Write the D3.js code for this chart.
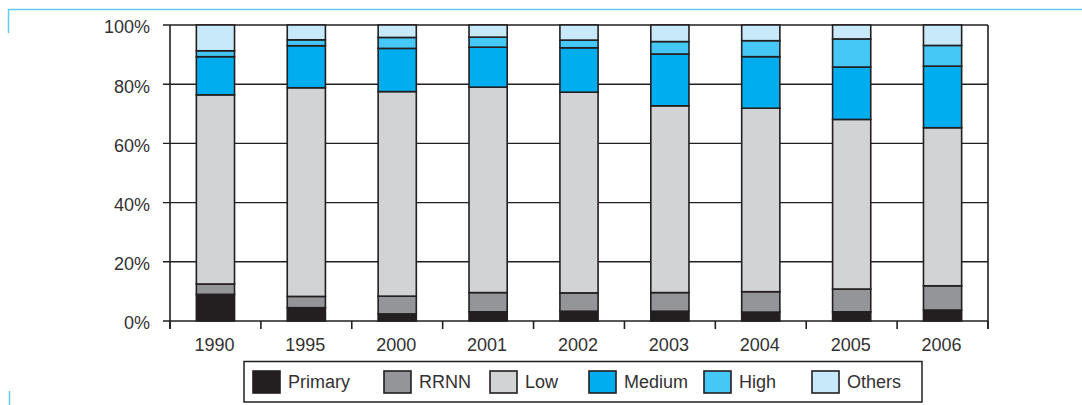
<!DOCTYPE html>
<html>
<head>
<meta charset="utf-8">
<script src="https://cdn.jsdelivr.net/npm/d3@7"></script>
<style>
  html, body { margin: 0; padding: 0; background: #fff; }
  svg { display: block; }
  text { font-family: "Liberation Sans", Arial, sans-serif; fill: #333132; }
</style>
</head>
<body>
<svg id="chart" width="1082" height="405"></svg>
<script>
// Share of each category per year (percent, stacks to 100)
const years   = ["1990", "1995", "2000", "2001", "2002", "2003", "2004", "2005", "2006"];
const primary = [9.0, 4.5, 2.4, 3.1, 3.3, 3.3, 3.0, 3.1, 3.7];
const rrnn    = [3.5, 3.8, 6.0, 6.5, 6.2, 6.3, 6.9, 7.7, 8.2];
const low     = [63.9, 70.5, 69.1, 69.4, 67.8, 63.1, 62.0, 57.3, 53.4];
const medium  = [12.9, 14.2, 14.6, 13.5, 15.0, 17.5, 17.4, 17.7, 20.8];
const high    = [2.0, 2.0, 3.7, 3.4, 2.6, 4.2, 5.4, 9.5, 7.0];
const others  = [8.7, 5.0, 4.2, 4.1, 5.1, 5.6, 5.3, 4.7, 6.9];

const seriesNames = ["Primary", "RRNN", "Low", "Medium", "High", "Others"];
const yTicks = [0, 20, 40, 60, 80, 100];
const yTickLabels = ["0%", "20%", "40%", "60%", "80%", "100%"];

const seriesValues = [primary, rrnn, low, medium, high, others];
const colors = ["#231f20", "#939598", "#d1d3d4", "#00aeef", "#45c8f5", "#c7e9f9"];
const ink = "#231f20";

const svg = d3.select("#chart");

// Plot frame
const plot = { left: 170, right: 988, top: 25, bottom: 321 };

const x = d3.scaleBand().domain(years).range([plot.left, plot.right]).paddingInner(0.58).paddingOuter(0.29);
const xOuter = d3.scaleBand().domain(years).range([plot.left, plot.right]);
const y = d3.scaleLinear().domain([0, 100]).range([plot.bottom, plot.top]);

// Stack table built from the series arrays
const table = years.map((yr, i) => {
  const row = { year: yr };
  seriesNames.forEach((s, k) => { row[s] = seriesValues[k][i]; });
  return row;
});
const stacked = d3.stack().keys(seriesNames)(table);

// Decorative page rule in light blue
const frame = svg.append("g").attr("stroke", "#63c9f1").attr("stroke-width", 1.5).attr("fill", "none");
frame.append("path").attr("d", "M8.5,33 V9.5 H1082");
frame.append("path").attr("d", "M9.5,391 V405");

// Horizontal gridlines with short outside ticks
const grid = svg.append("g");
grid.selectAll("line").data(yTicks).join("line")
  .attr("x1", plot.left - 7).attr("x2", plot.right)
  .attr("y1", d => y(d)).attr("y2", d => y(d))
  .attr("stroke", ink).attr("stroke-width", 1.4);

// Y axis labels
svg.append("g").selectAll("text").data(yTicks).join("text")
  .attr("x", 150).attr("y", d => y(d) + 2)
  .attr("dy", "0.35em")
  .attr("text-anchor", "end")
  .attr("font-size", 18)
  .text((d, i) => yTickLabels[i]);

// Stacked bars
const layers = svg.append("g").selectAll("g").data(stacked).join("g")
  .attr("fill", (d, i) => colors[i]);
layers.selectAll("rect").data(d => d).join("rect")
  .attr("x", d => x(d.data.year))
  .attr("width", x.bandwidth())
  .attr("y", d => y(d[1]))
  .attr("height", d => y(d[0]) - y(d[1]))
  .attr("stroke", ink)
  .attr("stroke-width", 1.6);

// Vertical side lines of the plot
svg.append("line").attr("x1", plot.left).attr("x2", plot.left)
  .attr("y1", plot.top).attr("y2", plot.bottom + 8).attr("stroke", ink).attr("stroke-width", 1.6);
svg.append("line").attr("x1", plot.right).attr("x2", plot.right)
  .attr("y1", plot.top).attr("y2", plot.bottom + 8).attr("stroke", ink).attr("stroke-width", 1.6);

// Category separators below the baseline
const sepX = years.map(yr => xOuter(yr)).concat([plot.right]);
svg.append("g").selectAll("line").data(sepX).join("line")
  .attr("x1", d => d).attr("x2", d => d)
  .attr("y1", plot.bottom).attr("y2", plot.bottom + 8)
  .attr("stroke", ink).attr("stroke-width", 1.6);

// Year labels
svg.append("g").selectAll("text").data(years).join("text")
  .attr("x", d => xOuter(d) + xOuter.bandwidth() / 2 - 1)
  .attr("y", 351)
  .attr("text-anchor", "middle")
  .attr("font-size", 18)
  .text(d => d);

// Legend
const legend = svg.append("g");
legend.append("rect")
  .attr("x", 244).attr("y", 361.5).attr("width", 678).attr("height", 40.5)
  .attr("fill", "#fff").attr("stroke", ink).attr("stroke-width", 1.5);
const legendX = [253, 384, 490, 589, 704, 812];
const items = legend.selectAll("g.item").data(seriesNames).join("g")
  .attr("class", "item")
  .attr("transform", (d, i) => `translate(${legendX[i]},371)`);
items.append("rect")
  .attr("width", 27).attr("height", 22)
  .attr("fill", (d, i) => colors[i])
  .attr("stroke", ink).attr("stroke-width", 1.6);
items.append("text")
  .attr("x", 35).attr("y", 11).attr("dy", "0.36em")
  .attr("font-size", 18)
  .text(d => d);
</script>
</body>
</html>
